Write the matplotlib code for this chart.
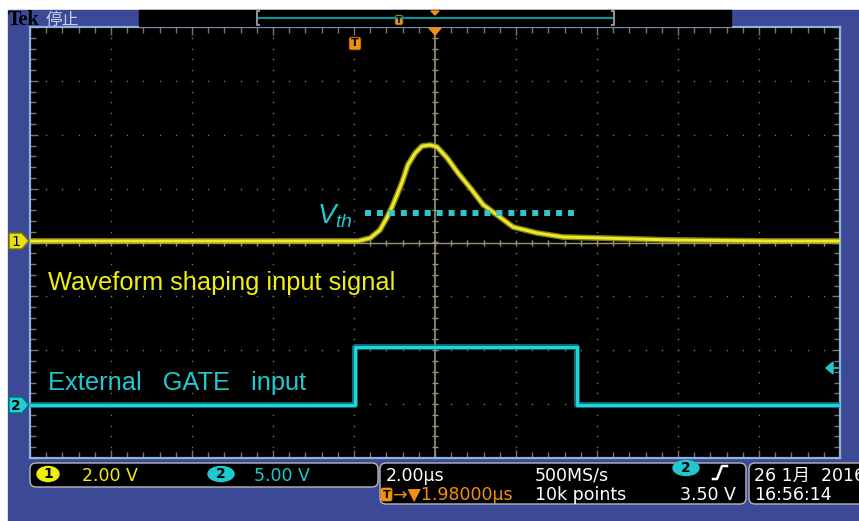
import matplotlib.pyplot as plt
from matplotlib.patches import Rectangle, FancyBboxPatch, Polygon, Ellipse
import numpy as np

plt.rcParams['font.family'] = ['DejaVu Sans', 'Noto Sans CJK SC']
plt.rcParams['mathtext.fontset'] = 'custom'
plt.rcParams['mathtext.it'] = 'Liberation Sans:italic'
plt.rcParams['mathtext.rm'] = 'Liberation Sans'

# channel 1, 2.00 V/div : shaped pulse (time in us, volts)
ch1_t = [-10.0, -1.9, -1.60, -1.36, -1.19, -1.06, -0.94, -0.81, -0.67, -0.49,
         -0.32, -0.12, 0.05, 0.30, 0.57, 0.91, 1.19, 1.53, 1.93, 2.52,
         3.16, 4.15, 5.80, 8.27, 10.0]
ch1_v = [0.0, 0.0, 0.11, 0.41, 0.86, 1.27, 1.71, 2.20, 2.83, 3.27,
         3.53, 3.57, 3.50, 3.09, 2.53, 1.90, 1.35, 0.97, 0.52, 0.30,
         0.15, 0.11, 0.04, 0.0, 0.0]
# channel 2, 5.00 V/div : external gate
ch2_t = [-10.0, -1.98, -1.98, 3.51, 3.51, 10.0]
ch2_v = [0.0, 0.0, 5.4, 5.4, 0.0, 0.0]
# threshold line drawn on channel 1
vth_t = [-1.73, 3.46]
vth_v = [1.04, 1.04]

BLUE = '#3c4a96'
YEL = '#f0ee10'
CYN = '#20c8d0'
ORG = '#f09010'
GRID = '#7c7660'

W, H = 859, 521
fig = plt.figure(figsize=(W / 100, H / 100), dpi=100)
fig.patch.set_facecolor('white')


def rect(x0, y0, x1, y1):
    return [x0 / W, 1 - y1 / H, (x1 - x0) / W, (y1 - y0) / H]


# background (pixel coords)
bg = fig.add_axes([0, 0, 1, 1], zorder=0)
bg.set_xlim(0, W)
bg.set_ylim(H, 0)
bg.axis('off')
bg.add_patch(Rectangle((8, 10), W - 8, H - 10, color=BLUE))

# graticule
scr = rect(30, 27, 840, 458)
ax = fig.add_axes(scr, zorder=1)
ax.set_facecolor('black')
ax.set_xlim(-5, 5)
ax.set_ylim(-4, 4)
ax.set_xticks(np.arange(-5, 6, 1))
ax.set_yticks(np.arange(-4, 5, 1))
ax.set_xticks(np.arange(-5, 5.01, 0.2), minor=True)
ax.set_yticks(np.arange(-4, 4.01, 0.2), minor=True)
ax.tick_params(which='both', direction='in', top=True, right=True,
               labelbottom=False, labelleft=False, color=GRID, width=1)
ax.tick_params(which='major', length=6)
ax.tick_params(which='minor', length=4)
for s in ax.spines.values():
    s.set_color('#8fb0e0')
    s.set_linewidth(1.6)
ys = np.arange(-4, 4.01, 0.2)
xs = np.arange(-5, 5.01, 0.2)
for xi in range(-4, 5):
    if xi != 0:
        ax.plot([xi] * len(ys), ys, ls='none', marker='s', ms=1.0, color=GRID, mew=0)
for yi in range(-3, 4):
    if yi != 0:
        ax.plot(xs, [yi] * len(xs), ls='none', marker='s', ms=1.0, color=GRID, mew=0)
ax.axhline(0, color='#9a927a', lw=1)
ax.axvline(0, color='#9a927a', lw=1.2)
ax.plot(xs, [0] * len(xs), ls='none', marker='|', ms=5, color='#9a927a')
ax.plot([0] * len(ys), ys, ls='none', marker='_', ms=5, color='#9a927a')

# channel 1
a1 = fig.add_axes(scr, zorder=2)
a1.set_xlim(-10, 10)
a1.set_ylim(-8.07, 7.96)
a1.axis('off')
a1.patch.set_alpha(0)
a1.plot(ch1_t, ch1_v, color='#a8a010', lw=4.2, alpha=0.8, solid_joinstyle='round')
a1.plot(ch1_t, ch1_v, color='#ece830', lw=2.2, solid_joinstyle='round')
a1.plot(vth_t, vth_v, color='#30c8c8', lw=4.3, ls=(0, (1, 1)), dash_capstyle='butt')

# channel 2
a2 = fig.add_axes(scr, zorder=3)
a2.set_xlim(-10, 10)
a2.set_ylim(-4.93, 35.16)
a2.axis('off')
a2.patch.set_alpha(0)
a2.plot(ch2_t, ch2_v, color='#109098', lw=4.2, alpha=0.8)
a2.plot(ch2_t, ch2_v, color='#20d4dc', lw=2.2)

# overlay (pixel coords)
ov = fig.add_axes([0, 0, 1, 1], zorder=4)
ov.set_xlim(0, W)
ov.set_ylim(H, 0)
ov.axis('off')
ov.patch.set_alpha(0)

# header
ov.text(8, 25, 'Tek', family='Liberation Serif', weight='bold', fontsize=14.5,
        color='black', va='baseline')
ov.text(45, 25, '停止', family='Noto Sans CJK SC', fontsize=12,
        color='#c8d0f0', va='baseline')
ov.add_patch(Rectangle((139, 10), 592, 16, color='black'))
ov.plot([259, 612], [17.5, 17.5], color='#109090', lw=1.6)
for bx, d in [(257, 1), (614, -1)]:
    ov.plot([bx + 2 * d, bx, bx, bx + 2 * d], [11, 11, 25, 25], color='#909090', lw=1.5)
ov.add_patch(FancyBboxPatch((395, 15), 8, 10, boxstyle='round,pad=0,rounding_size=2',
                            fc=ORG, ec='#604000', lw=0.5))
ov.text(399, 20.5, 'T', color='black', fontsize=6, weight='bold', ha='center', va='center')
ov.add_patch(Polygon([(431, 11), (439, 11), (435, 15)], color=ORG))

# screen top markers
ov.add_patch(Polygon([(429, 28), (441, 28), (435, 35)], color=ORG))
ov.add_patch(FancyBboxPatch((349, 37), 12, 13, boxstyle='round,pad=0,rounding_size=2',
                            fc=ORG, ec='#603000', lw=0.5))
ov.text(355, 43.5, 'T', color='black', fontsize=8, weight='bold', ha='center', va='center')

# channel markers
ov.add_patch(Polygon([(9, 233), (22, 233), (29, 241), (22, 249), (9, 249)],
                     fc='#e8e010', ec='#707000', lw=1))
ov.text(16, 241.5, '1', color='black', fontsize=10, ha='center', va='center')
ov.add_patch(Polygon([(9, 397), (22, 397), (29, 405), (22, 413), (9, 413)],
                     fc='#20d0d8', ec='#007070', lw=1))
ov.text(16, 405.5, '2', color='black', fontsize=10, weight='bold', ha='center', va='center')
ov.add_patch(Polygon([(826, 368), (833, 362), (833, 374)], color=CYN))
ov.plot([833, 840], [368, 368], color=CYN, lw=1.2)

# annotations
ov.text(48, 290, 'Waveform shaping input signal', family='Liberation Sans',
        fontsize=18.3, color=YEL, va='baseline')
ov.text(48, 390, 'External   GATE   input', family='Liberation Sans',
        fontsize=18.3, color=CYN, va='baseline')
ov.text(317, 224, r'$V_{th}$', fontsize=20, color=CYN, va='baseline')

# bottom readouts
box = dict(boxstyle='round,pad=0,rounding_size=6')
ov.add_patch(FancyBboxPatch((30, 463), 348, 24, fc='black', ec='#b8b8b8', lw=1, **box))
ov.add_patch(FancyBboxPatch((380, 463), 366, 41, fc='black', ec='#b8b8b8', lw=1, **box))
ov.add_patch(FancyBboxPatch((749, 463), 130, 41, fc='black', ec='#b8b8b8', lw=1, **box))

fs = 12.5
ov.add_patch(Ellipse((48, 474), 22, 15, color=YEL))
ov.text(48, 474.5, '1', color='black', fontsize=10, weight='bold', ha='center', va='center')
ov.text(82, 481, '2.00 V', color=YEL, fontsize=fs, va='baseline')
ov.add_patch(Ellipse((221, 474), 26, 15, color=CYN))
ov.text(221, 474.5, '2', color='black', fontsize=10, weight='bold', ha='center', va='center')
ov.text(254, 481, '5.00 V', color=CYN, fontsize=fs, va='baseline')

ov.text(386, 481, '2.00µs', color='white', fontsize=fs, va='baseline')
ov.text(535, 481, '500MS/s', color='white', fontsize=fs, va='baseline')
ov.add_patch(Ellipse((686, 468), 26, 15, color=CYN))
ov.text(686, 468.5, '2', color='black', fontsize=10, weight='bold', ha='center', va='center')
ov.plot([713, 717, 722, 727], [479, 479, 466, 466], color='white', lw=1.8)
ov.add_patch(FancyBboxPatch((381, 488), 11, 13, boxstyle='round,pad=0,rounding_size=2',
                            fc=ORG, ec=ORG, lw=0.5))
ov.text(386.5, 494.5, 'T', color='black', fontsize=8, weight='bold', ha='center', va='center')
ov.text(393, 500, '→▼1.98000µs', color=ORG, fontsize=fs, va='baseline')
ov.text(535, 500, '10k points', color='white', fontsize=fs, va='baseline')
ov.text(736, 500, '3.50 V', color='white', fontsize=fs, va='baseline', ha='right')

ov.text(754, 481, '26 1月  2016', color='white', fontsize=fs, va='baseline', clip_on=True)
ov.text(754, 500, '16:56:14', color='white', fontsize=fs, va='baseline')

plt.savefig('out.png', dpi=100)
